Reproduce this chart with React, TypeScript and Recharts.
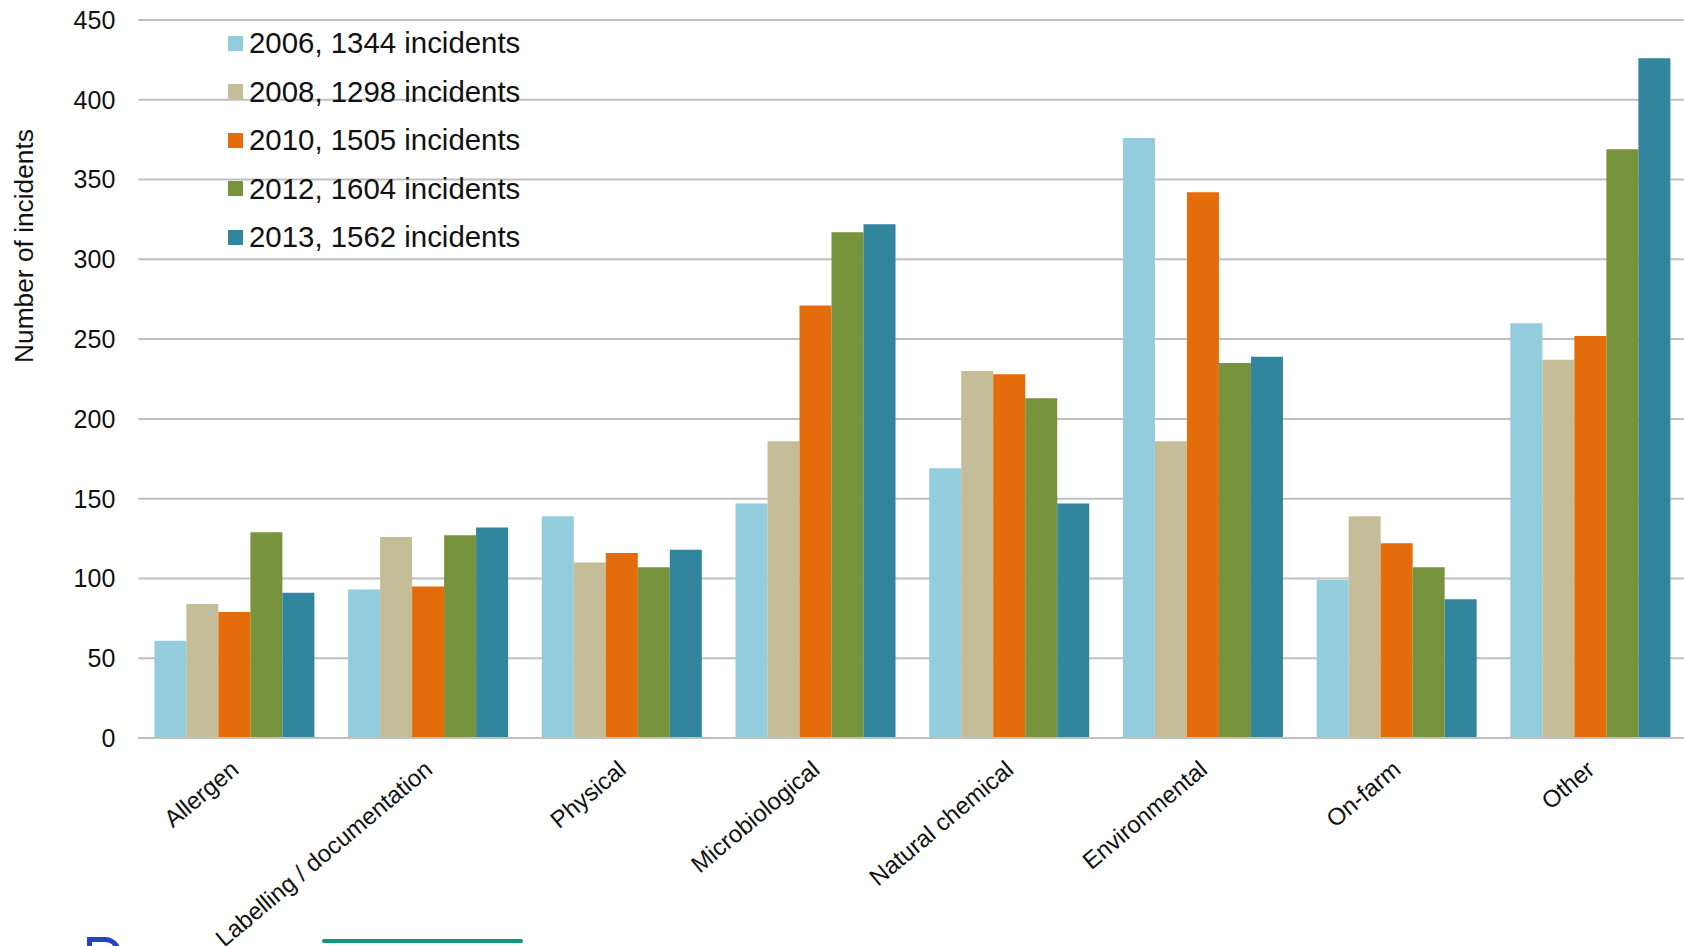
import { Bar, BarChart, CartesianGrid, Legend, XAxis, YAxis } from "recharts";

const categories = [
  "Allergen",
  "Labelling / documentation",
  "Physical",
  "Microbiological",
  "Natural chemical",
  "Environmental",
  "On-farm",
  "Other",
];

const years = ["2006", "2008", "2010", "2012", "2013"];
const totals = [1344, 1298, 1505, 1604, 1562];
const colors = ["#93CDDD", "#C4BD97", "#E46C0A", "#77933C", "#31859C"];

const incidents2006 = [61, 93, 139, 147, 169, 376, 99, 260];
const incidents2008 = [84, 126, 110, 186, 230, 186, 139, 237];
const incidents2010 = [79, 95, 116, 271, 228, 342, 122, 252];
const incidents2012 = [129, 127, 107, 317, 213, 235, 107, 369];
const incidents2013 = [91, 132, 118, 322, 147, 239, 87, 426];

const yTicks = [0, 50, 100, 150, 200, 250, 300, 350, 400, 450];

const seriesValues = [incidents2006, incidents2008, incidents2010, incidents2012, incidents2013];

const data = categories.map((category, i) => {
  const row: Record<string, string | number> = { category };
  years.forEach((year, s) => {
    row[year] = seriesValues[s][i];
  });
  return row;
});

const FONT = '"Liberation Sans", Arial, Helvetica, sans-serif';

function CategoryTick({ x, y, payload }: any) {
  return (
    <g transform={`translate(${x + 5},${y + 34}) rotate(-40)`}>
      <text x={0} y={0} textAnchor="end" fontSize={24} fontFamily={FONT} fill="#111">
        {payload.value}
      </text>
    </g>
  );
}

function AxisTitle({ viewBox }: any) {
  const cx = 24;
  const cy = viewBox.y + 226;
  return (
    <text
      x={cx}
      y={cy}
      transform={`rotate(-90 ${cx} ${cy})`}
      textAnchor="middle"
      dominantBaseline="central"
      fontSize={26.3}
      fontFamily={FONT}
      fill="#111"
    >
      Number of incidents
    </text>
  );
}

function YearLegend({ payload }: any) {
  return (
    <div style={{ fontFamily: FONT, fontSize: 29.4, color: "#111" }}>
      {(payload ?? []).map((item: any, i: number) => (
        <div key={item.value} style={{ display: "flex", alignItems: "center", height: 48.5 }}>
          <span
            style={{
              width: 15,
              height: 15,
              background: item.color,
              marginRight: 6,
              display: "inline-block",
            }}
          />
          <span style={{ whiteSpace: "nowrap" }}>
            {years[i]}, {totals[i]} incidents
          </span>
        </div>
      ))}
    </div>
  );
}

export default function App() {
  return (
    <div
      style={{
        position: "fixed",
        left: 0,
        top: 0,
        width: 1684,
        height: 946,
        overflow: "hidden",
        background: "#fff",
      }}
    >
      <BarChart
        width={1700}
        height={946}
        data={data}
        margin={{ top: 20, right: 12, left: 0, bottom: 8 }}
        barCategoryGap="8.3%"
        barGap={0}
      >
        <CartesianGrid vertical={false} stroke="#BFBFBF" strokeWidth={2} />
        <XAxis
          dataKey="category"
          interval={0}
          height={200}
          tickLine={false}
          tickSize={0}
          tickMargin={0}
          axisLine={{ stroke: "#BFBFBF", strokeWidth: 2 }}
          tick={<CategoryTick />}
        />
        <YAxis
          width={138.3}
          domain={[0, 450]}
          ticks={yTicks}
          interval={0}
          axisLine={false}
          tickLine={false}
          tickSize={0}
          tickMargin={23}
          tick={{ fontSize: 25, fontFamily: FONT, fill: "#111" }}
          label={<AxisTitle />}
        />
        {/* centred + middle keeps the legend from reserving plot space */}
        <Legend
          layout="vertical"
          verticalAlign="middle"
          align="center"
          content={<YearLegend />}
          wrapperStyle={{ left: 228, top: 19, width: 380 }}
        />
        {years.map((year, s) => (
          <Bar key={year} dataKey={year} fill={colors[s]} isAnimationActive={false} />
        ))}
      </BarChart>
      {/* page furniture below the chart */}
      <div
        style={{
          position: "absolute",
          left: 322,
          top: 939,
          width: 201,
          height: 4,
          borderRadius: 2,
          background: "#10977F",
        }}
      />
      <div
        style={{
          position: "absolute",
          left: 87,
          top: 937,
          width: 24,
          height: 30,
          border: "5px solid #2342C4",
          borderRadius: "0 16px 16px 0",
        }}
      />
    </div>
  );
}
